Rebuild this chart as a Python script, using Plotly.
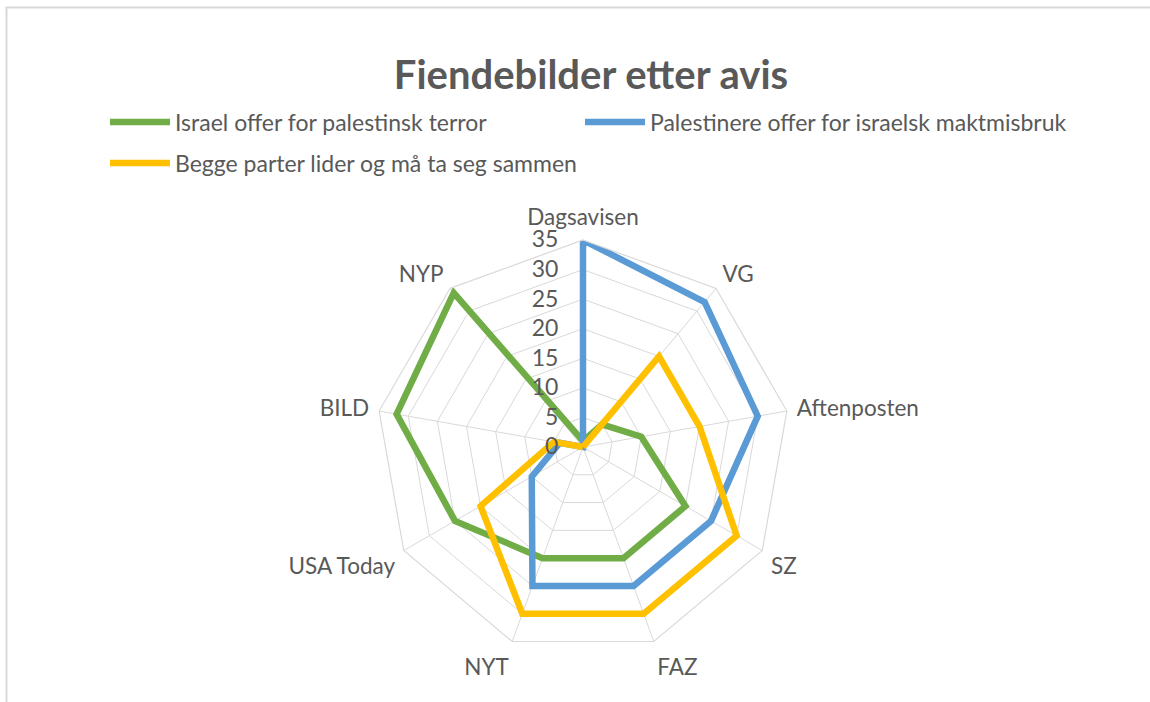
import plotly.graph_objects as go

categories = ["Dagsavisen", "VG", "Aftenposten", "SZ", "FAZ", "NYT", "USA Today", "BILD", "NYP"]
israel_offer = [1, 5, 10, 20, 20, 20, 25, 32, 34]
palestinere_offer = [35, 32, 30, 25, 25, 25, 10, 4, 0]
begge_parter = [0, 20, 20, 30, 30, 30, 20, 5, 0]

series_names = [
    "Israel offer for palestinsk terror",
    "Palestinere offer for israelsk maktmisbruk",
    "Begge parter lider og må ta seg sammen",
]
series_values = [israel_offer, palestinere_offer, begge_parter]
series_colors = ["#70AD47", "#5B9BD5", "#FFC000"]
series_legends = ["legend", "legend3", "legend2"]

radial_ticks = [0, 5, 10, 15, 20, 25, 30, 35]

W, H = 1150, 702
FONT = "Lato"
TXT = "#595959"
GRID = "#d9d9d9"

cx, cy, R = 583, 447, 207

fig = go.Figure()
for name, vals, col, lg in zip(series_names, series_values, series_colors, series_legends):
    fig.add_trace(go.Scatterpolar(
        r=vals + vals[:1],
        theta=categories + categories[:1],
        mode="lines",
        name=name,
        line=dict(color=col, width=6.5),
        legend=lg,
        showlegend=True,
    ))


def legend_at(x_px, y_px):
    return dict(
        orientation="h",
        x=x_px / W, xanchor="left",
        y=1 - y_px / H, yanchor="middle",
        itemwidth=60,
        font=dict(family=FONT, size=23, color=TXT),
        bgcolor="rgba(0,0,0,0)",
        visible=True,
    )


fig.update_layout(
    width=W, height=H,
    showlegend=True,
    margin=dict(l=0, r=0, t=0, b=0),
    paper_bgcolor="white",
    plot_bgcolor="white",
    font=dict(family=FONT, color=TXT, size=23),
    title=dict(
        text="<b>Fiendebilder etter avis</b>",
        x=591 / W, xanchor="center",
        y=1 - 75 / H, yanchor="middle",
        font=dict(family=FONT, size=40, color=TXT),
    ),
    polar=dict(
        domain=dict(x=[(cx - R) / W, (cx + R) / W], y=[(H - cy - R) / H, (H - cy + R) / H]),
        bgcolor="white",
        gridshape="linear",
        radialaxis=dict(
            range=[0, 35],
            tickvals=radial_ticks,
            angle=90,
            side="counterclockwise",
            showline=False,
            ticks="outside",
            ticklen=16,
            tickcolor="rgba(0,0,0,0)",
            gridcolor=GRID,
            gridwidth=1.2,
            tickfont=dict(family=FONT, size=23, color=TXT),
            tickangle=90,
        ),
        angularaxis=dict(
            rotation=90,
            direction="clockwise",
            categoryorder="array",
            categoryarray=categories,
            showline=True,
            linecolor=GRID,
            linewidth=1.2,
            gridcolor=GRID,
            gridwidth=1.2,
            ticks="outside",
            ticklen=5,
            tickcolor="rgba(0,0,0,0)",
            tickfont=dict(family=FONT, size=22.5, color=TXT),
        ),
    ),
    legend=legend_at(105, 122),
    legend3=legend_at(580, 122),
    legend2=legend_at(105, 163),
    shapes=[dict(
        type="rect", xref="paper", yref="paper",
        x0=6.5 / W, x1=1 + 10 / W, y0=-10 / H, y1=1 - 7.5 / H,
        line=dict(color=GRID, width=2), fillcolor="rgba(0,0,0,0)", layer="below",
    )],
)

fig.write_html(
    "out.html",
    config={"displayModeBar": False},
    post_script="document.body.style.margin='0px';",
)
